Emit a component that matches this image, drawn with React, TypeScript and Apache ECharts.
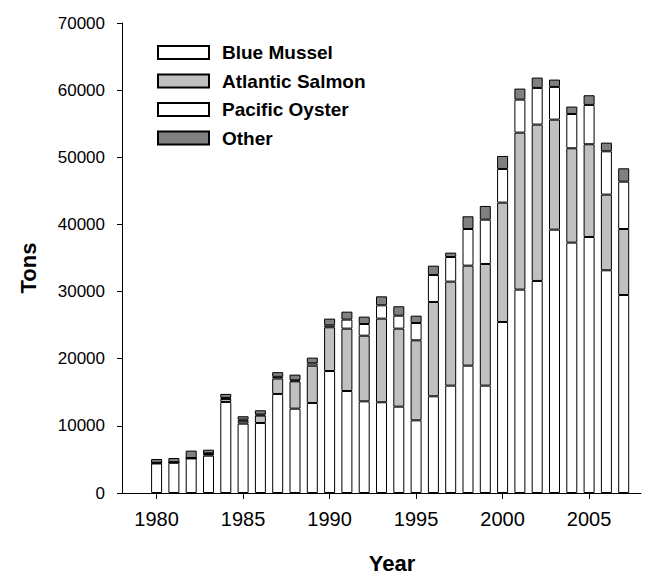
import React, { useEffect, useRef } from "react";
import * as echarts from "echarts";

const years = [1980, 1981, 1982, 1983, 1984, 1985, 1986, 1987, 1988, 1989, 1990, 1991, 1992, 1993, 1994, 1995, 1996, 1997, 1998, 1999, 2000, 2001, 2002, 2003, 2004, 2005, 2006, 2007];
const blueMussel = [4400, 4500, 5150, 5560, 13560, 10330, 10430, 14750, 12560, 13410, 18170, 15190, 13650, 13510, 12860, 10820, 14400, 15990, 18970, 15990, 25470, 30290, 31580, 39220, 37290, 38130, 33170, 29490];
const atlanticSalmon = [100, 80, 60, 250, 450, 350, 1100, 2300, 4070, 5560, 6510, 9290, 9780, 12460, 11620, 11920, 14050, 15490, 14890, 18120, 17780, 23380, 23290, 16390, 14050, 13810, 11270, 9830];
const pacificOyster = [0, 0, 0, 100, 150, 250, 150, 250, 150, 340, 290, 1340, 1740, 1980, 1930, 2580, 4020, 3670, 5460, 6600, 5010, 4920, 5460, 4870, 5110, 5860, 6450, 7050];
const other = [560, 630, 1100, 540, 600, 500, 640, 700, 850, 850, 1000, 1190, 1100, 1340, 1400, 1090, 1390, 650, 1890, 2040, 1940, 1640, 1540, 1090, 1100, 1440, 1290, 1990];

const axisYears: number[] = [];
for (let y = 1978; y <= 2008; y++) axisYears.push(y);

const FONT = "'Liberation Sans', Arial, sans-serif";

function pad(values: number[]) {
  return axisYears.map((y) => {
    const i = years.indexOf(y);
    return i >= 0 ? values[i] : "-";
  });
}

export default function App() {
  const ref = useRef<HTMLDivElement>(null);
  useEffect(() => {
    if (!ref.current) return;
    const chart = echarts.init(ref.current, undefined, { renderer: "svg" });
    const mk = (name: string, data: number[], color: string) => ({
      name,
      type: "bar",
      stack: "total",
      barWidth: 11,
      data: pad(data),
      itemStyle: { color, borderColor: "#000", borderWidth: 1 },
    });
    chart.setOption({
      animation: false,
      backgroundColor: "#fff",
      grid: { left: 122, right: 12, top: 23, bottom: 84, containLabel: false },
      legend: {
        orient: "vertical",
        left: 157,
        top: 43,
        padding: 0,
        itemWidth: 51,
        itemHeight: 13,
        itemGap: 9.5,
        icon: "rect",
        textStyle: {
          fontFamily: FONT,
          fontSize: 19,
          fontWeight: "bold",
          color: "#000",
          lineHeight: 19,
          padding: [0, 0, 0, 8],
        },
        data: ["Blue Mussel", "Atlantic Salmon", "Pacific Oyster", "Other"],
      },
      xAxis: {
        type: "category",
        data: axisYears.map(String),
        boundaryGap: false,
        axisLine: { lineStyle: { color: "#000", width: 1 } },
        axisTick: {
          show: true,
          length: 6,
          lineStyle: { color: "#000" },
          interval: (_i: number, v: string) => Number(v) % 5 === 0,
        },
        axisLabel: {
          interval: (_i: number, v: string) => Number(v) % 5 === 0,
          fontFamily: FONT,
          fontSize: 20,
          color: "#000",
          margin: 16,
        },
        splitLine: { show: false },
      },
      yAxis: {
        type: "value",
        min: 0,
        max: 70000,
        interval: 10000,
        axisLine: { show: true, lineStyle: { color: "#000", width: 1 } },
        axisTick: { show: true, length: 5, lineStyle: { color: "#000" } },
        axisLabel: {
          fontFamily: FONT,
          fontSize: 17,
          color: "#000",
          margin: 17,
          formatter: (v: number) => String(v),
        },
        splitLine: { show: false },
      },
      graphic: [
        {
          type: "text",
          x: 392,
          y: 563,
          style: {
            text: "Year",
            font: `bold 22px ${FONT}`,
            fill: "#000",
            textAlign: "center",
            textVerticalAlign: "middle",
          },
        },
        {
          type: "text",
          x: 28,
          y: 268,
          rotation: Math.PI / 2,
          style: {
            text: "Tons",
            font: `bold 22px ${FONT}`,
            fill: "#000",
            textAlign: "center",
            textVerticalAlign: "middle",
          },
        },
      ],
      series: [
        mk("Blue Mussel", blueMussel, "#ffffff"),
        mk("Atlantic Salmon", atlanticSalmon, "#c0c0c0"),
        mk("Pacific Oyster", pacificOyster, "#ffffff"),
        mk("Other", other, "#808080"),
      ],
    });
    return () => chart.dispose();
  }, []);
  return (
    <div
      ref={ref}
      style={{ position: "fixed", left: 0, top: 0, width: 653, height: 577 }}
    />
  );
}
